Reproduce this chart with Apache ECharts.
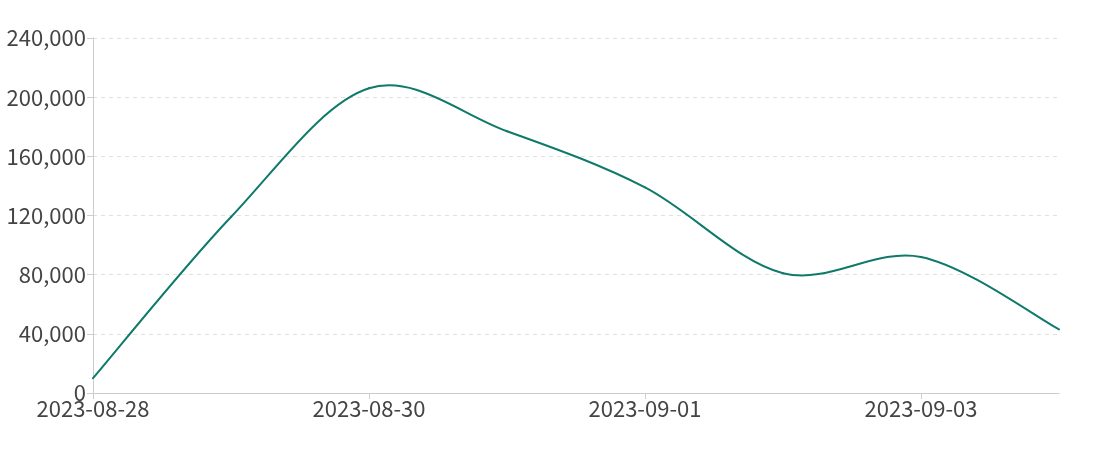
<!DOCTYPE html>
<html>
<head>
<meta charset="utf-8">
<script src="https://cdn.jsdelivr.net/npm/echarts@6/dist/echarts.min.js"></script>
<style>html,body{margin:0;padding:0;background:#fff}#c{width:1100px;height:450px}</style>
</head>
<body>
<div id="c"></div>
<script>
const dates = ['2023-08-28','2023-08-29','2023-08-30','2023-08-31','2023-09-01','2023-09-02','2023-09-03','2023-09-04'];
const values = [10000, 119000, 206000, 177000, 139000, 81000, 92000, 43000];
const yTicks = [0, 40000, 80000, 120000, 160000, 200000, 240000];

const K = 1 / 6; // cardinal spline, tension 0 (Catmull-Rom)
const LINE_COLOR = '#0f7a6b';

function renderLine(params, api) {
  if (params.dataIndex !== 0) return null;
  const pts = values.map((v, i) => api.coord([i, v]));
  const n = pts.length;
  const P = i => pts[Math.max(0, Math.min(n - 1, i))];
  const children = [];
  for (let i = 0; i < n - 1; i++) {
    const p0 = P(i - 1), p1 = P(i), p2 = P(i + 1), p3 = P(i + 2);
    children.push({
      type: 'bezierCurve',
      shape: {
        x1: p1[0], y1: p1[1], x2: p2[0], y2: p2[1],
        cpx1: p1[0] + K * (p2[0] - p0[0]), cpy1: p1[1] + K * (p2[1] - p0[1]),
        cpx2: p2[0] - K * (p3[0] - p1[0]), cpy2: p2[1] - K * (p3[1] - p1[1])
      },
      style: {stroke: LINE_COLOR, lineWidth: 2, fill: null, lineCap: 'round'}
    });
  }
  return {type: 'group', children};
}

const chart = echarts.init(document.getElementById('c'), null, {renderer: 'canvas'});
const font = '"Noto Sans CJK SC", "Noto Sans", sans-serif';
chart.setOption({
  animation: false,
  grid: {left: 93, right: 41, top: 38, bottom: 57},
  xAxis: {
    type: 'category',
    data: dates,
    boundaryGap: false,
    axisLine: {lineStyle: {color: '#cccccc'}},
    axisTick: {show: true, interval: 1, length: 6, lineStyle: {color: '#cccccc'}},
    axisLabel: {interval: 1, color: '#444444', fontSize: 22, fontFamily: font, margin: 5}
  },
  yAxis: {
    type: 'value',
    min: yTicks[0],
    max: yTicks[yTicks.length - 1],
    interval: 40000,
    axisLine: {show: true, lineStyle: {color: '#cccccc'}},
    axisTick: {show: true, length: 6, lineStyle: {color: '#cccccc'}},
    axisLabel: {
      color: '#444444', fontSize: 22, fontFamily: font, margin: 7,
      formatter: v => v.toLocaleString('en-US')
    },
    splitLine: {show: true, lineStyle: {color: '#e0e0e0', type: [4, 4]}}
  },
  series: [{
    type: 'custom',
    data: [[0, values[0]]],
    encode: {x: 0, y: 1},
    renderItem: renderLine,
    silent: true
  }]
});
</script>
</body>
</html>
